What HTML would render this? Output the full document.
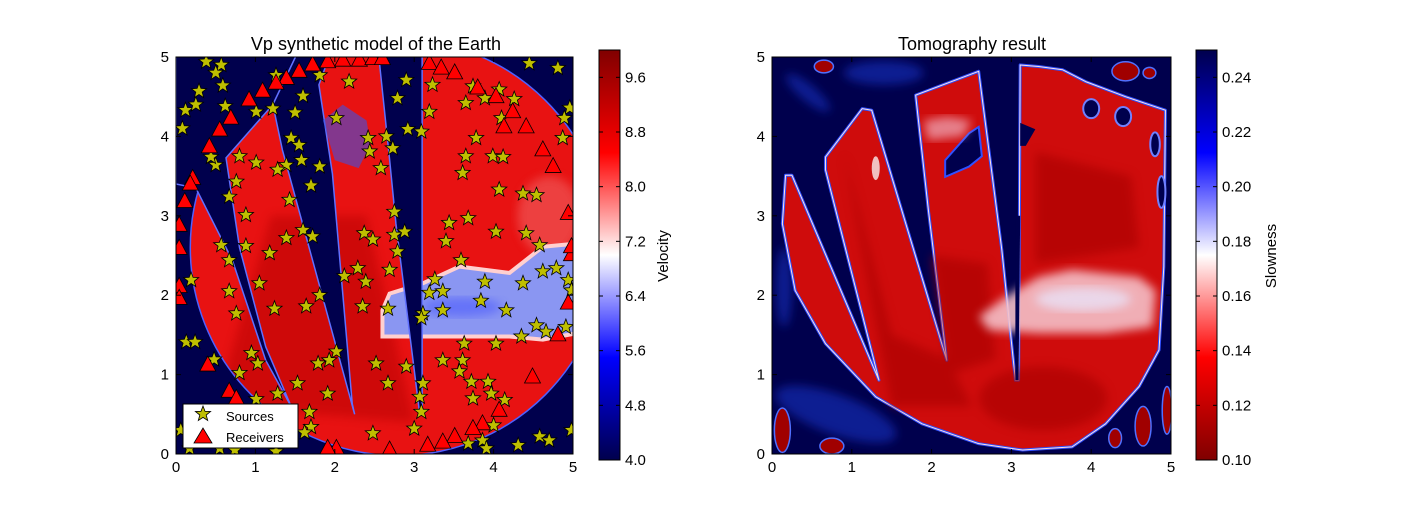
<!DOCTYPE html>
<html><head><meta charset="utf-8"><style>
html,body{margin:0;padding:0;background:#fff;}
svg text{font-family:"Liberation Sans",sans-serif;}
.ns{vector-effect:non-scaling-stroke;}
</style></head><body>
<svg id="fig" width="1412" height="512" viewBox="0 0 1412 512" xmlns="http://www.w3.org/2000/svg">
<defs>
 <linearGradient id="seis" x1="0" y1="1" x2="0" y2="0">
  <stop offset="0" stop-color="#00004d"/><stop offset="0.25" stop-color="#0000ff"/>
  <stop offset="0.5" stop-color="#ffffff"/><stop offset="0.75" stop-color="#ff0000"/>
  <stop offset="1" stop-color="#800000"/></linearGradient>
 <linearGradient id="seisr" x1="0" y1="0" x2="0" y2="1">
  <stop offset="0" stop-color="#00004d"/><stop offset="0.25" stop-color="#0000ff"/>
  <stop offset="0.5" stop-color="#ffffff"/><stop offset="0.75" stop-color="#ff0000"/>
  <stop offset="1" stop-color="#800000"/></linearGradient>
 <clipPath id="clipL"><rect x="176" y="57" width="397" height="397"/></clipPath>
 <clipPath id="clipR"><rect x="772" y="57" width="399" height="397"/></clipPath>
 <clipPath id="diskL"><circle cx="2.8" cy="2.6" r="2.62"/></clipPath>
 <filter id="blur1"><feGaussianBlur stdDeviation="0.06"/></filter>
</defs>

<!-- LEFT PANEL -->
<text x="376" y="50" font-size="18" text-anchor="middle">Vp synthetic model of the Earth</text>
<g clip-path="url(#clipL)">
 <rect x="176" y="57" width="397" height="397" fill="#00004d"/>
 <g transform="translate(176,454) scale(79.4,-79.4)">
  <g clip-path="url(#diskL)">
   <rect x="0" y="0" width="5.5" height="5.5" fill="#e81212" class="ns" stroke="#5060ff" stroke-width="1"/>
   <polygon points="0.5,0.6 1.2,3.0 2.4,3.0 3.0,0.4" fill="#b00000" opacity="0.45" filter="url(#blur1)"/>
   <ellipse cx="4.7" cy="3.0" rx="0.4" ry="0.5" fill="#f06060" opacity="0.6" filter="url(#blur1)"/>
  </g>
  <circle cx="2.8" cy="2.6" r="2.62" fill="none" stroke="#5060ff" stroke-width="1.5" class="ns"/>
  <polygon points="2.60,1.81 2.69,2.02 3.11,2.15 3.57,2.36 4.2,2.28 4.62,2.61 5.04,2.65 5.04,1.52 4.62,1.44 4.2,1.48 3.36,1.48 2.6,1.48" fill="#8a96f2" stroke="#ffd0d0" stroke-width="4" class="ns"/>
  <ellipse cx="3.6" cy="1.85" rx="0.5" ry="0.12" fill="#4050ff" opacity="0.5" filter="url(#blur1)"/>
  <polygon points="0,5.2 0,3.4 0.25,3.35 0.71,2.44 1.13,1.18 1.45,0.6 1.13,1.35 0.8,2.6 0.63,3.73 1.22,4.4 1.6,5.2" fill="#00004d" stroke="#6070ff" stroke-width="1.5" class="ns"/>
  <polygon points="1.6,5.2 1.22,4.4 1.34,3.83 2.25,0.5 2.22,0.63 1.97,3.53 1.8,4.65 2.0,5.2" fill="#00004d" stroke="#6070ff" stroke-width="1.5" class="ns"/>
  <polygon points="2.56,4.95 2.69,3.71 2.77,2.9 3.06,0.58 3.1,0.58 3.1,5.2 2.56,5.2" fill="#00004d" stroke="#6070ff" stroke-width="1.5" class="ns"/>
  <polygon points="1.85,4.2 2.1,4.4 2.4,4.2 2.45,3.9 2.3,3.6 2.0,3.7" fill="#4050e0" opacity="0.6"/>
 </g>
 <g id="markers"></g>
</g>
<rect x="176" y="57" width="397" height="397" fill="none" stroke="#000" stroke-width="1"/>
<g id="axL"></g>
<g>
 <rect x="183" y="404" width="115" height="44" fill="#fff" stroke="#000" stroke-width="1"/>
 <polygon id="legStar" fill="#bfbf00" stroke="#000" stroke-width="0.8"/>
 <polygon points="203,428 194,443 212,443" fill="#ff0000" stroke="#000" stroke-width="0.8"/>
 <text x="226" y="421" font-size="13">Sources</text>
 <text x="226" y="442" font-size="13">Receivers</text>
</g>
<rect x="599" y="50" width="21" height="410" fill="url(#seis)" stroke="#000" stroke-width="1"/>
<g id="cbL"></g>
<text transform="translate(668,256) rotate(-90)" font-size="15" text-anchor="middle">Velocity</text>

<!-- RIGHT PANEL -->
<text x="972" y="50" font-size="18" text-anchor="middle">Tomography result</text>
<g clip-path="url(#clipR)">
 <rect x="772" y="57" width="399" height="397" fill="#00004d"/>
 <g transform="translate(772,454) scale(79.8,-79.4)">
  <g fill="#1830c0" opacity="0.6" filter="url(#blur1)">
   <ellipse cx="0.45" cy="4.55" rx="0.35" ry="0.1" transform="rotate(-40 0.45 4.55)"/>
   <ellipse cx="1.4" cy="4.8" rx="0.5" ry="0.15"/>
   <ellipse cx="0.8" cy="0.5" rx="0.8" ry="0.25" transform="rotate(-20 0.8 0.5)"/>
   <ellipse cx="0.15" cy="2.1" rx="0.1" ry="0.5"/>
  </g>
  <g fill="#a00000" stroke="#5070ff" stroke-width="1.5" class="ns">
   <ellipse class="ns" cx="0.65" cy="4.88" rx="0.12" ry="0.08"/>
   <ellipse class="ns" cx="0.13" cy="0.3" rx="0.1" ry="0.28"/>
   <ellipse class="ns" cx="0.75" cy="0.1" rx="0.15" ry="0.1"/>
   <ellipse class="ns" cx="4.43" cy="4.82" rx="0.17" ry="0.12"/>
   <ellipse class="ns" cx="4.73" cy="4.8" rx="0.08" ry="0.07"/>
   <ellipse class="ns" cx="4.65" cy="0.35" rx="0.1" ry="0.25"/>
   <ellipse class="ns" cx="4.3" cy="0.2" rx="0.08" ry="0.12"/>
   <ellipse class="ns" cx="4.95" cy="0.55" rx="0.06" ry="0.3"/>
  </g>
  <polygon points="0.17,3.51 0.13,2.90 0.29,2.06 0.67,1.39 1.30,0.72 1.88,0.38 2.59,0.13 3.14,0.05 3.76,0.09 4.18,0.38 4.60,0.85 4.85,1.31 4.91,2.36 4.93,4.33 4.43,4.50 3.93,4.69 3.64,4.84 3.34,4.88 3.11,4.90 3.09,0.93 3.05,0.93 2.88,2.57 2.59,4.82 1.80,4.52 1.96,3.07 2.19,1.18 1.25,4.33 1.13,4.35 0.67,3.74 0.67,3.58 1.34,0.93 0.25,3.51" fill="#cf0c0c" stroke="#3050ff" stroke-width="3" class="ns" stroke-linejoin="round"/>
  <polygon points="0.17,3.51 0.13,2.90 0.29,2.06 0.67,1.39 1.30,0.72 1.88,0.38 2.59,0.13 3.14,0.05 3.76,0.09 4.18,0.38 4.60,0.85 4.85,1.31 4.91,2.36 4.93,4.33 4.43,4.50 3.93,4.69 3.64,4.84 3.34,4.88 3.11,4.90 3.09,0.93 3.05,0.93 2.88,2.57 2.59,4.82 1.80,4.52 1.96,3.07 2.19,1.18 1.25,4.33 1.13,4.35 0.67,3.74 0.67,3.58 1.34,0.93 0.25,3.51" fill="none" stroke="#ffe0e0" stroke-width="1" class="ns" stroke-linejoin="round"/>
  <g fill="#a80000" opacity="0.6" filter="url(#blur1)">
   <polygon points="0.9,3.8 1.5,1.5 2.2,1.2 2.5,0.6 1.5,0.6"/>
   <polygon points="2.0,2.5 2.7,2.4 2.8,1.2 2.2,1.0"/>
   <polygon points="3.3,3.8 4.5,3.5 4.6,2.6 3.3,2.4"/>
   <ellipse cx="3.4" cy="0.7" rx="0.8" ry="0.4"/>
  </g>
  <polygon points="2.59,1.73 2.93,1.98 3.34,2.23 3.76,2.32 4.60,2.23 4.81,2.06 4.77,1.60 4.18,1.52 3.34,1.52 2.72,1.56" fill="#f4c0c8" opacity="0.9" filter="url(#blur1)"/>
  <ellipse cx="3.9" cy="1.95" rx="0.6" ry="0.15" fill="#e8e8ff" opacity="0.7" filter="url(#blur1)"/>
  <ellipse cx="1.3" cy="3.6" rx="0.05" ry="0.15" fill="#f0c0c0"/>
  <polygon points="3.05,0.93 3.09,0.93 3.11,3.0 3.05,3.0" fill="#00004d"/>
  <polygon points="2.17,3.49 2.17,3.70 2.47,4.04 2.59,4.12 2.63,3.75 2.47,3.62" fill="#00004d" stroke="#3050ff" stroke-width="2" class="ns"/>
  <polygon points="1.9,4.2 2.2,4.25 2.5,4.2 2.4,4.0 1.95,3.95" fill="#f0b0c0" opacity="0.7" filter="url(#blur1)"/>
  <polygon points="3.11,4.17 3.30,4.09 3.18,3.88 3.11,3.88" fill="#00004d"/>
  <g fill="#00004d" stroke="#7080ff" stroke-width="2" class="ns">
   <ellipse class="ns" cx="4.0" cy="4.35" rx="0.1" ry="0.12"/>
   <ellipse class="ns" cx="4.4" cy="4.25" rx="0.1" ry="0.12"/>
   <ellipse class="ns" cx="4.8" cy="3.9" rx="0.06" ry="0.15"/>
   <ellipse class="ns" cx="4.88" cy="3.3" rx="0.05" ry="0.2"/>
  </g>
 </g>
</g>
<rect x="772" y="57" width="399" height="397" fill="none" stroke="#000" stroke-width="1"/>
<g id="axR"></g>
<rect x="1196" y="50" width="21" height="410" fill="url(#seisr)" stroke="#000" stroke-width="1"/>
<g id="cbR"></g>
<text transform="translate(1276,256) rotate(-90)" font-size="15" text-anchor="middle">Slowness</text>
</svg>
<script>
const axisTicks=[0,1,2,3,4,5];
const velTicks=[4.0,4.8,5.6,6.4,7.2,8.0,8.8,9.6];
const velRange=[4.0,10.0];
const slowTicks=[0.10,0.12,0.14,0.16,0.18,0.20,0.22,0.24];
const slowRange=[0.10,0.25];
const sourcesX=[0.38,0.57,0.50,0.59,0.29,0.12,0.25,0.62,0.08,1.01,1.22,1.60,1.50,1.81,1.26,2.18,2.90,2.79,3.19,2.92,3.09,3.23,4.45,4.81,3.74,4.07,3.89,4.26,3.65,4.96,4.89,4.10,4.87,3.78,3.65,3.99,4.12,3.61,4.07,4.37,4.54,2.02,2.42,2.65,2.73,2.44,1.45,1.55,1.58,1.81,1.39,1.28,0.80,1.01,0.50,0.44,0.76,0.67,1.70,1.43,2.58,2.75,0.88,1.60,1.72,1.39,2.37,2.48,2.75,2.88,2.79,3.44,3.68,4.03,4.41,4.58,3.40,3.59,0.57,0.67,0.88,1.18,2.29,2.69,2.12,2.39,4.62,4.79,4.94,3.26,3.19,3.36,3.89,4.37,3.84,4.16,3.36,3.11,3.09,2.67,2.35,1.64,1.24,0.76,0.67,1.05,1.81,0.19,4.54,4.66,4.91,4.35,4.03,3.63,3.61,3.36,3.57,2.90,2.52,2.02,1.93,1.79,1.03,0.95,0.80,0.48,0.13,0.24,3.72,3.93,3.74,3.97,4.14,3.11,3.07,2.67,1.91,1.53,1.28,1.01,1.68,3.09,3.00,2.48,1.70,1.62,4.00,3.86,3.91,3.68,4.31,4.58,4.70,4.98,1.26,0.74,0.55,0.17,0.06,4.98];
const sourcesY=[4.94,4.90,4.80,4.64,4.57,4.33,4.40,4.38,4.10,4.31,4.35,4.51,4.30,4.77,4.77,4.69,4.71,4.48,4.31,4.09,4.06,4.65,4.92,4.86,4.63,4.59,4.48,4.47,4.42,4.36,4.23,4.23,3.98,3.98,3.75,3.75,3.74,3.54,3.33,3.28,3.26,4.23,3.98,4.00,3.85,3.81,3.98,3.89,3.70,3.62,3.64,3.58,3.75,3.67,3.64,3.74,3.43,3.24,3.38,3.20,3.60,3.05,3.01,2.82,2.74,2.72,2.78,2.70,2.76,2.80,2.55,2.91,2.97,2.80,2.78,2.63,2.68,2.44,2.63,2.44,2.62,2.53,2.34,2.32,2.24,2.17,2.30,2.34,2.19,2.20,2.03,2.05,2.17,2.15,1.93,1.81,1.81,1.77,1.71,1.83,1.86,1.86,1.83,1.77,2.05,2.15,2.00,2.19,1.62,1.54,1.60,1.48,1.39,1.39,1.18,1.18,1.04,1.10,1.14,1.29,1.18,1.14,1.14,1.27,1.02,1.19,1.41,1.41,0.91,0.91,0.70,0.76,0.68,0.89,0.72,0.89,0.76,0.89,0.76,0.69,0.53,0.53,0.32,0.26,0.34,0.27,0.36,0.17,0.07,0.13,0.11,0.22,0.17,0.30,0.03,0.05,0.07,0.07,0.30,2.06];
const receiversX=[1.91,2.10,2.31,2.48,2.60,3.19,3.34,3.51,1.72,1.55,1.39,1.26,1.09,0.92,0.69,0.55,0.42,0.21,0.11,0.04,0.04,0.04,0.04,3.80,4.03,4.24,4.41,4.62,4.75,4.94,4.98,4.94,4.81,4.49,4.07,3.86,3.74,3.51,3.36,3.17,2.69,2.02,1.91,0.67,0.76,0.40,4.98,0.18,4.13];
const receiversY=[4.94,4.96,4.96,4.98,4.98,4.92,4.86,4.80,4.90,4.82,4.73,4.67,4.57,4.46,4.23,4.08,3.87,3.47,3.18,2.88,2.59,2.11,1.96,4.61,4.50,4.31,4.12,3.83,3.62,3.03,2.51,1.90,1.50,0.97,0.55,0.38,0.32,0.22,0.15,0.11,0.05,0.07,0.07,0.79,0.70,1.12,2.61,3.40,4.12];

const NS='http://www.w3.org/2000/svg';
function mk(tag,attrs,parent){const e=document.createElementNS(NS,tag);for(const k in attrs)e.setAttribute(k,attrs[k]);parent.appendChild(e);return e;}
const xL=v=>176+v*79.4, yL=v=>454-v*79.4;
function starPts(cx,cy,R){const r=R*0.42;let p=[];for(let i=0;i<10;i++){const a=-Math.PI/2+i*Math.PI/5;const rr=i%2?r:R;p.push((cx+rr*Math.cos(a)).toFixed(1)+','+(cy+rr*Math.sin(a)).toFixed(1));}return p.join(' ');}
const mg=document.getElementById('markers');
for(let i=0;i<sourcesX.length;i++){
 const s=mk('polygon',{points:starPts(xL(sourcesX[i]),yL(sourcesY[i]),8),fill:'#bfbf00',stroke:'#000','stroke-width':0.8},mg);
 
 
}
for(let i=0;i<receiversX.length;i++){
 const cx=xL(receiversX[i]),cy=yL(receiversY[i]);
 const t=mk('polygon',{points:`${cx},${cy-9} ${cx-8},${cy+6} ${cx+8},${cy+6}`,fill:'#ff0000',stroke:'#000','stroke-width':0.8},mg);
 
 
}
document.getElementById('legStar').setAttribute('points',starPts(203,414,8));
function axes(gid,x0,w){
 const g=document.getElementById(gid);
 axisTicks.forEach(v=>{
  const x=x0+v*w/5, y=454-v*79.4;
  mk('line',{x1:x,y1:454,x2:x,y2:449,stroke:'#000'},g);
  mk('line',{x1:x,y1:57,x2:x,y2:62,stroke:'#000'},g);
  const tx=mk('text',{x:x,y:472,'font-size':15,'text-anchor':'middle'},g);tx.textContent=v;
  
  
  mk('line',{x1:x0,y1:y,x2:x0+5,y2:y,stroke:'#000'},g);
  mk('line',{x1:x0+w,y1:y,x2:x0+w-5,y2:y,stroke:'#000'},g);
  const ty=mk('text',{x:x0-7,y:y+5,'font-size':15,'text-anchor':'end'},g);ty.textContent=v;
  
  
 });
}
axes('axL',176,397);axes('axR',772,399);
function cbar(gid,x0,ticks,range,dec){
 const g=document.getElementById(gid);
 ticks.forEach(v=>{
  const y=460-(v-range[0])/(range[1]-range[0])*410;
  mk('line',{x1:x0,y1:y,x2:x0+4,y2:y,stroke:'#000'},g);
  mk('line',{x1:x0+21,y1:y,x2:x0+17,y2:y,stroke:'#000'},g);
  const t=mk('text',{x:x0+26,y:y+5,'font-size':15},g);t.textContent=v.toFixed(dec);
  
  
 });
}
cbar('cbL',599,velTicks,velRange,1);cbar('cbR',1196,slowTicks,slowRange,2);
</script>
</body></html>
